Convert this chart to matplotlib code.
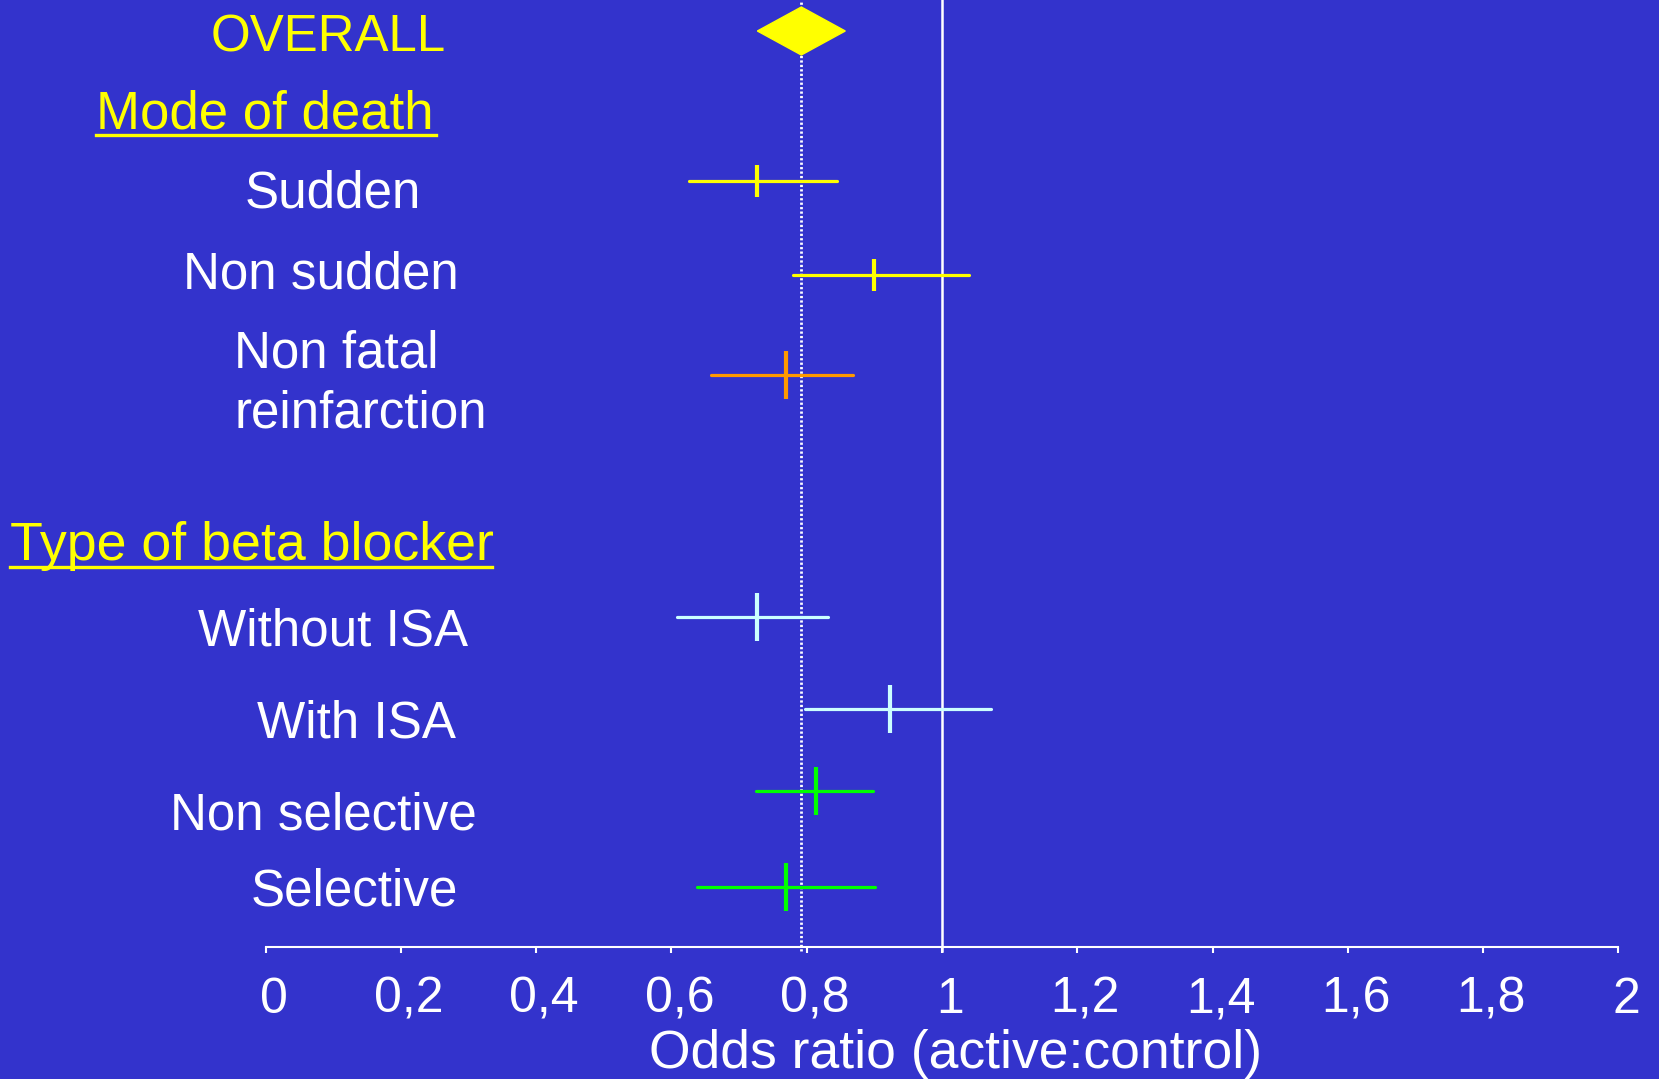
import matplotlib
matplotlib.use("Agg")
import matplotlib.pyplot as plt
from matplotlib.lines import Line2D
from matplotlib.transforms import ScaledTranslation

plt.rcParams['font.family'] = ['Liberation Sans', 'DejaVu Sans']

# data
overall = 0.792
overall_low = 0.727
overall_high = 0.857

labels = ['Sudden', 'Non sudden', 'Non fatal\nreinfarction',
          'Without ISA', 'With ISA', 'Non selective', 'Selective']
odds = [0.726, 0.899, 0.770, 0.726, 0.923, 0.814, 0.770]
ci_low = [0.626, 0.780, 0.659, 0.608, 0.798, 0.725, 0.637]
ci_high = [0.845, 1.040, 0.868, 0.832, 1.073, 0.898, 0.901]
colors = ['#FFFF00', '#FFFF00', '#FF9900', '#CCFFFF', '#CCFFFF', '#00FF00', '#00FF00']

xticks = [0, 0.2, 0.4, 0.6, 0.8, 1, 1.2, 1.4, 1.6, 1.8, 2]
xtick_labels = ['0', '0,2', '0,4', '0,6', '0,8', '1', '1,2', '1,4', '1,6', '1,8', '2']

# layout (pixels from top of the slide)
W, H = 1659, 1079
overall_row = 31
row_pos = [181, 275, 375, 617, 709, 791, 887]
tick_half = [16, 16, 24, 24, 24, 24, 24]
label_pos = [(245, 207), (183, 288), (234, 368), (198, 645), (257, 737), (170, 829), (251, 905)]
axis_y = 946.7
x_left, x_right = 265.7, 1618.3
label_size = 36.8

bg = '#3333CC'
fig = plt.figure(figsize=(W / 100, H / 100), dpi=100, facecolor=bg)
ax = fig.add_axes([x_left / W, 1 - axis_y / H, (x_right - x_left) / W, axis_y / H])
ax.set_facecolor(bg)
ax.set_xlim(0, 2)
ax.set_ylim(axis_y, 0)

# reference lines
ax.axvline(1, ymin=-0.005, ymax=1, color='white', lw=1.8, clip_on=False)
ax.axvline(overall, ymin=-0.005, ymax=1, color='white', lw=2.0,
           linestyle=(0, (0.8, 0.8)), clip_on=False)

# overall diamond
ax.fill([overall_low, overall, overall_high, overall],
        [overall_row, overall_row - 24, overall_row, overall_row + 24],
        color='#FFFF00', zorder=3)

for y, o, lo, hi, c, h in zip(row_pos, odds, ci_low, ci_high, colors, tick_half):
    ax.hlines(y, lo, hi, color=c, lw=2.3, capstyle='round', zorder=3)
    ax.vlines(o, y - h, y + h, color=c, lw=3.0, zorder=3)

for s in ['top', 'left', 'right']:
    ax.spines[s].set_visible(False)
ax.spines['bottom'].set_color('white')
ax.spines['bottom'].set_linewidth(1.5)
ax.set_yticks([])
ax.set_xticks(xticks)
ax.set_xticklabels(xtick_labels, fontsize=36, color='white')
ax.tick_params(axis='x', colors='white', length=4.5, width=1.5, pad=17)
shift = ScaledTranslation(8 / 100, 0, fig.dpi_scale_trans)
for lab in ax.get_xticklabels():
    lab.set_transform(lab.get_transform() + shift)


def px(x, y):
    return x / W, 1 - y / H


fig.text(*px(956, 1068), 'Odds ratio (active:control)', fontsize=38.5,
         color='white', ha='center', va='baseline')

# row labels
for (lx, ly), name in zip(label_pos, labels):
    if '\n' in name:
        first, second = name.split('\n')
        fig.text(*px(lx, ly), first, fontsize=label_size, color='white', va='baseline')
        fig.text(*px(lx, ly + 60), second, fontsize=label_size, color='white', va='baseline')
    else:
        fig.text(*px(lx, ly), name, fontsize=label_size, color='white', va='baseline')

# headers
fig.text(*px(211, 51), 'OVERALL', fontsize=36.7, color='#FFFF00', va='baseline')
fig.text(*px(96, 128), 'Mode of death', fontsize=38, color='#FFFF00', va='baseline')
fig.add_artist(Line2D([96 / W, 436 / W], [1 - 135 / H] * 2, color='#FFFF00', lw=2.4))
fig.text(*px(10, 560), 'Type of beta blocker', fontsize=38.7, color='#FFFF00', va='baseline')
fig.add_artist(Line2D([10 / W, 492 / W], [1 - 567 / H] * 2, color='#FFFF00', lw=2.4))

fig.savefig('out.png', dpi=100, facecolor=bg)
